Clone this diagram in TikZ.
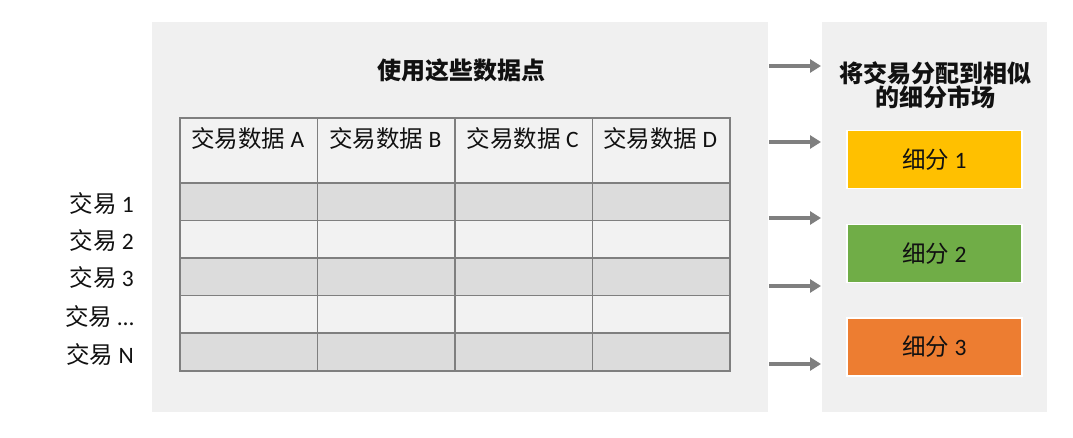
\documentclass[tikz,border=0pt]{standalone}
\usepackage{fontspec}
\setmainfont{Carlito}
\newfontfamily\cjk{Noto Sans CJK SC}
\usetikzlibrary{arrows.meta}
\definecolor{panelgray}{HTML}{F0F0F0}
\definecolor{rowdark}{HTML}{DCDCDC}
\definecolor{rowlight}{HTML}{F2F2F2}
\definecolor{gridline}{HTML}{7F7F7F}
\definecolor{arrowgray}{HTML}{7F7F7F}
\definecolor{segyellow}{HTML}{FFC000}
\definecolor{seggreen}{HTML}{70AD47}
\definecolor{segorange}{HTML}{ED7D31}
\definecolor{txt}{HTML}{111111}
\tikzset{
  panelbox/.style={fill=panelgray, draw=none, anchor=north west, inner sep=0pt},
  cellbox/.style={draw=gridline, line width=1.6pt, anchor=north west, inner sep=0pt, minimum width=137.5pt},
  bodytext/.style={text=txt, font=\fontsize{23.5}{27}\selectfont, inner sep=0pt},
  titletext/.style={text=txt, font=\fontsize{24}{24}\selectfont\cjk\bfseries, inner sep=0pt, align=center},
  segbox/.style={draw=white, line width=1.5pt, minimum width=175pt, minimum height=58pt, inner sep=0pt, text=txt, font=\fontsize{23.5}{27}\selectfont},
  flowarrow/.style={draw=arrowgray, line width=3.5pt, -{Triangle[length=11pt,width=13pt]}}
}
\begin{document}
\begin{tikzpicture}[x=1pt,y=-1pt]
\useasboundingbox (0,0) rectangle (1073,437);
\fill[white] (0,0) rectangle (1073,437);
% panels
\node[panelbox, minimum width=616pt, minimum height=390pt] (leftpanel) at (152,22) {};
\node[panelbox, minimum width=225pt, minimum height=390pt] (rightpanel) at (822,22) {};
% title
\node[titletext] (title) at (461,70) {使用这些数据点};
% header cells
\foreach \i/\x/\lab in {0/179/A,1/316.5/B,2/454/C,3/591.5/D}{
  \node[cellbox, fill=rowlight, minimum height=65pt] (h\i) at (\x,117) {};
  \node[bodytext] (ht\i) at (\x+68.75,139) {{\cjk 交易数据} \lab};
}
% body cells
\foreach \j in {1,...,5}{
  \pgfmathsetmacro{\yy}{182+(\j-1)*37.6}
  \pgfmathtruncatemacro{\odd}{mod(\j,2)}
  \ifnum\odd=1 \def\cellfill{rowdark}\else\def\cellfill{rowlight}\fi
  \foreach \i/\x in {0/179,1/316.5,2/454,3/591.5}{
    \node[cellbox, fill=\cellfill, minimum height=37.6pt] (c\i-\j) at (\x,\yy) {};
  }
}
% row labels
\node[bodytext, anchor=east] (r1) at (134,204) {{\cjk 交易} 1};
\node[bodytext, anchor=east] (r2) at (134,241) {{\cjk 交易} 2};
\node[bodytext, anchor=east] (r3) at (134,278) {{\cjk 交易} 3};
\node[bodytext, anchor=east] (r4) at (134,317) {{\cjk 交易} …};
\node[bodytext, anchor=east] (r5) at (134,355) {{\cjk 交易} N};
% arrows
\foreach \k/\y in {1/66,2/142,3/218,4/286,5/364}{
  \coordinate (as\k) at (769,\y);
  \coordinate (ae\k) at (821,\y);
  \draw[flowarrow] (as\k) -- (ae\k);
}
% right title
\node[titletext] (rtitle) at (935,85) {将交易分配到相似\\的细分市场};
% segments
\node[segbox, fill=segyellow] (s1) at (934.5,159.5) {{\cjk 细分} 1};
\node[segbox, fill=seggreen] (s2) at (934.5,253.5) {{\cjk 细分} 2};
\node[segbox, fill=segorange] (s3) at (934.5,347) {{\cjk 细分} 3};
\end{tikzpicture}
\end{document}
